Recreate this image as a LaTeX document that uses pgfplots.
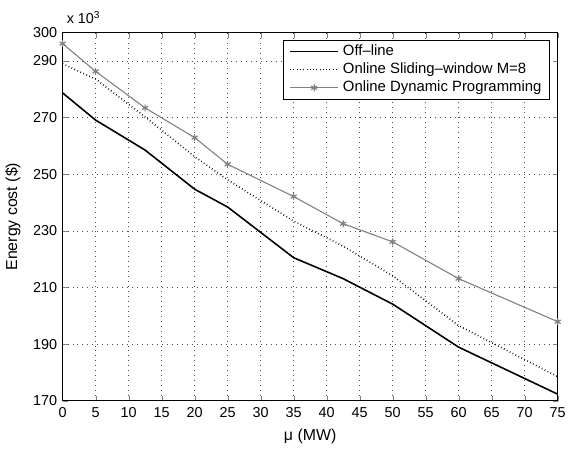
\documentclass[border=0pt]{standalone}
\usepackage{fontspec}
\setmainfont{Liberation Sans}
\usepackage{pgfplots}
\pgfplotsset{compat=1.18}

\definecolor{dpgray}{RGB}{128,128,128}

\begin{document}
\fontsize{16}{18}\selectfont
\begin{tikzpicture}
\begin{axis}[
  scale only axis,
  width=499pt,
  height=371pt,
  xmin=0, xmax=75,
  ymin=170, ymax=300,
  xtick={0,5,...,75},
  ytick={170,190,210,230,250,270,290,300},
  tick align=inside,
  major tick length=5pt,
  grid=major,
  major grid style={black!70, line width=0.5pt, dash pattern=on 0.6pt off 4.4pt},
  axis line style={line width=0.7pt},
  /pgf/number format/assume math mode=true,
  tick label style={font=\fontsize{14.5}{16}\selectfont},
  xticklabel style={yshift=-1pt},
  xlabel={μ (MW)},
  ylabel={Energy cost (\$)},
  xlabel style={yshift=-1pt, font=\fontsize{16}{18}\selectfont},
  ylabel style={yshift=2pt, font=\fontsize{16}{18}\selectfont},
  legend cell align=left,
  legend style={at={(0.984,0.981)}, anchor=north east, draw=black,
    line width=0.8pt, font=\fontsize{15}{17}\selectfont,
    inner xsep=6pt, inner ysep=3pt, row sep=1pt,
    /tikz/every odd column/.append style={column sep=2pt}},
  legend image code/.code={
    \draw[mark repeat=2,mark phase=2,#1]
      plot coordinates {(0cm,0cm) (0.85cm,0cm) (1.7cm,0cm)};
  },
]
\addplot[black, line width=1.6pt] coordinates {
  (0,278.7) (5,269.1) (12.5,258.5) (20,244.7) (25,238.4) (35,220.5)
  (42.5,213.1) (50,204.1) (60,188.9) (75,172.3)
};
\addlegendentry{Off--line}
\addplot[black, line width=1.6pt, dash pattern=on 0.7pt off 2.6pt] coordinates {
  (0,289) (5,283.6) (12.5,270.2) (20,256.2) (25,248) (35,233.4)
  (42.5,224.6) (50,214.1) (60,196.5) (75,178.5)
};
\addlegendentry{Online Sliding--window M=8}
\addplot[dpgray, line width=1.1pt, mark=asterisk, mark size=3.5pt,
  mark options={line width=1.2pt}] coordinates {
  (0,296.1) (5,286.3) (12.5,273.4) (20,262.9) (25,253.5) (35,242.1)
  (42.5,232.5) (50,226.1) (60,213.1) (75,197.9)
};
\addlegendentry{Online Dynamic Programming}
\coordinate (tl) at (rel axis cs:0,1);
\end{axis}
\node[anchor=south west, inner sep=0pt, font=\fontsize{14.5}{16}\selectfont]
  (sc) at ([xshift=4pt,yshift=9pt]tl) {x 10\textsuperscript{3}};
\path ([yshift=11pt]sc.north) -- ([yshift=11pt]sc.north);
\end{tikzpicture}
\end{document}
